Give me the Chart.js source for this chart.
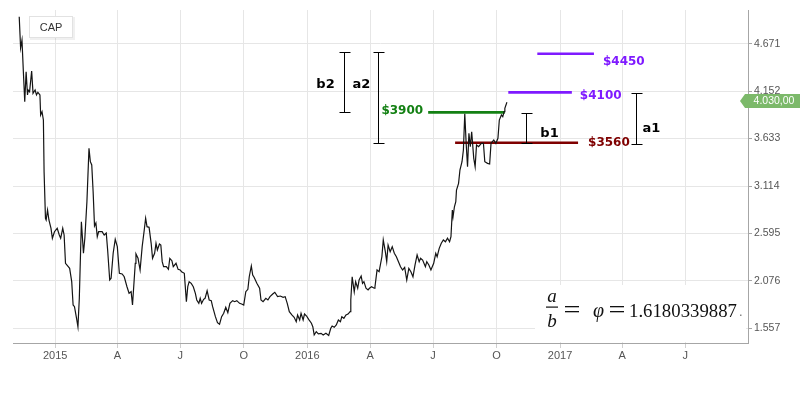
<!DOCTYPE html>
<html><head><meta charset="utf-8">
<script src="https://cdn.jsdelivr.net/npm/chart.js@4/dist/chart.umd.min.js"></script>
<style>html,body{margin:0;padding:0;background:#fff;overflow:hidden}canvas{display:block}</style>
</head><body>
<canvas id="c" width="806" height="393"></canvas>
<script>
const seriesName = 'CAP';
const priceDates = [
'2014-11-10','2014-11-12','2014-11-14','2014-11-16','2014-11-18','2014-11-20','2014-11-22','2014-11-23','2014-11-25','2014-11-28',
'2014-11-30','2014-12-03','2014-12-05','2014-12-07','2014-12-10','2014-12-11','2014-12-13','2014-12-15','2014-12-16','2014-12-18',
'2014-12-19','2014-12-21','2014-12-23','2014-12-26','2014-12-28','2014-12-31','2015-01-04','2015-01-07','2015-01-09','2015-01-12',
'2015-01-14','2015-01-16','2015-01-20','2015-01-22','2015-01-25','2015-01-27','2015-01-29','2015-02-01','2015-02-03','2015-02-05',
'2015-02-08','2015-02-11','2015-02-13','2015-02-16','2015-02-19','2015-02-21','2015-02-23','2015-02-25','2015-02-27','2015-03-01',
'2015-03-03','2015-03-05','2015-03-10','2015-03-13','2015-03-16','2015-03-18','2015-03-21','2015-03-23','2015-03-26','2015-03-29',
'2015-04-01','2015-04-04','2015-04-08','2015-04-11','2015-04-15','2015-04-18','2015-04-21','2015-04-23','2015-04-27','2015-04-28',
'2015-05-01','2015-05-04','2015-05-07','2015-05-10','2015-05-12','2015-05-14','2015-05-17','2015-05-20','2015-05-22','2015-05-25',
'2015-05-27','2015-05-29','2015-06-01','2015-06-03','2015-06-05','2015-06-07','2015-06-11','2015-06-14','2015-06-16','2015-06-19',
'2015-06-21','2015-06-25','2015-06-28','2015-07-01','2015-07-03','2015-07-07','2015-07-10','2015-07-12','2015-07-14','2015-07-17',
'2015-07-20','2015-07-23','2015-07-25','2015-07-28','2015-07-30','2015-08-01','2015-08-04','2015-08-06','2015-08-09','2015-08-12',
'2015-08-15','2015-08-17','2015-08-21','2015-08-24','2015-08-27','2015-08-30','2015-09-02','2015-09-05','2015-09-08','2015-09-11',
'2015-09-15','2015-09-18','2015-09-21','2015-09-25','2015-09-28','2015-10-01','2015-10-04','2015-10-07','2015-10-09','2015-10-12',
'2015-10-14','2015-10-16','2015-10-20','2015-10-24','2015-10-26','2015-10-29','2015-11-02','2015-11-05','2015-11-08','2015-11-12',
'2015-11-15','2015-11-19','2015-11-23','2015-11-27','2015-11-30','2015-12-03','2015-12-06','2015-12-10','2015-12-13','2015-12-16',
'2015-12-18','2015-12-21','2015-12-23','2015-12-26','2015-12-28','2015-12-31','2016-01-03','2016-01-07','2016-01-09','2016-01-11',
'2016-01-14','2016-01-17','2016-01-21','2016-01-24','2016-01-28','2016-02-01','2016-02-04','2016-02-06','2016-02-09','2016-02-12',
'2016-02-15','2016-02-18','2016-02-20','2016-02-23','2016-02-26','2016-02-29','2016-03-03','2016-03-04','2016-03-06','2016-03-09',
'2016-03-11','2016-03-14','2016-03-16','2016-03-19','2016-03-21','2016-03-23','2016-03-26','2016-03-29','2016-03-31','2016-04-03',
'2016-04-07','2016-04-08','2016-04-11','2016-04-14','2016-04-18','2016-04-20','2016-04-23','2016-04-25','2016-04-27','2016-04-30',
'2016-05-03','2016-05-06','2016-05-09','2016-05-12','2016-05-15','2016-05-18','2016-05-21','2016-05-24','2016-05-27','2016-05-30',
'2016-06-02','2016-06-05','2016-06-08','2016-06-11','2016-06-13','2016-06-16','2016-06-20','2016-06-22','2016-06-25','2016-06-28',
'2016-07-02','2016-07-05','2016-07-07','2016-07-10','2016-07-13','2016-07-16','2016-07-19','2016-07-22','2016-07-25','2016-07-27',
'2016-07-29','2016-07-30','2016-08-01','2016-08-03','2016-08-04','2016-08-07','2016-08-09','2016-08-12','2016-08-14','2016-08-16',
'2016-08-18','2016-08-20','2016-08-22','2016-08-24','2016-08-26','2016-08-29','2016-08-31','2016-09-02','2016-09-05','2016-09-09',
'2016-09-12','2016-09-14','2016-09-18','2016-09-21','2016-09-23','2016-09-25','2016-09-27','2016-09-30','2016-10-03','2016-10-05',
'2016-10-08','2016-10-10','2016-10-12','2016-10-13','2016-10-16'];
const priceValues = [
4966,4624,4711,4365,4036,4365,4110,4164,4146,4372,
4128,4164,4110,4139,4110,3891,3927,3836,3270,2761,
2742,2851,2742,2651,2542,2614,2651,2578,2542,2651,
2578,2268,2231,2213,2067,1812,1793,1666,1574,1885,
2723,2378,2542,2942,3526,3380,3344,3052,2676,2709,
2559,2614,2614,2578,2600,2414,2085,2104,2378,2531,
2450,2159,2151,2121,2012,1940,1957,1812,2268,2370,
2323,2195,2450,2632,2761,2669,2662,2487,2323,2378,
2487,2414,2479,2468,2286,2231,2231,2202,2323,2297,
2231,2268,2202,2195,2176,2159,1848,2012,2067,2049,
2012,1940,1867,1830,1885,1830,1874,1885,1968,1867,
1859,1793,1684,1618,1601,1684,1721,1787,1728,1830,
1859,1848,1859,1830,1823,1812,1957,1984,2121,2239,
2140,2115,2049,1995,1867,1848,1885,1867,1903,1932,
1951,1903,1910,1896,1903,1830,1739,1702,1677,1629,
1702,1648,1721,1648,1713,1691,1655,1612,1574,1484,
1520,1495,1502,1484,1502,1478,1557,1582,1568,1593,
1648,1629,1684,1666,1702,1713,1739,1867,2121,1957,
2067,1995,2085,2129,2049,2067,1995,1976,1995,2012,
1995,2012,2195,2176,2340,2523,2395,2286,2468,2395,
2450,2378,2340,2286,2231,2195,2224,2085,2213,2176,
2121,2250,2359,2286,2323,2304,2231,2286,2250,2195,
2268,2378,2340,2432,2487,2523,2504,2542,2504,2559,
2851,2778,2887,2942,3070,3143,3289,3380,3508,3905,
3581,3325,3691,3544,3708,3417,3325,3563,3544,3581,
3581,3380,3362,3355,3581,3599,3617,3581,3636,3836,
3891,3872,3927,3964,4030];

const yTickValues = [1557, 2076, 2595, 3114, 3633, 4152, 4671];
const yRange = [1396, 5040];
const xRange = ['2014-11-01', '2017-09-30'];
const xTickDates = ['2015-01-01','2015-04-01','2015-07-01','2015-10-01','2016-01-01','2016-04-01','2016-07-01','2016-10-01','2017-01-01','2017-04-01','2017-07-01'];
const xTickLabels = ['2015','A','J','O','2016','A','J','O','2017','A','J'];

const levelNames  = ['$3900', '$3560', '$4100', '$4450'];
const levelValues = [3920, 3588, 4139, 4562];
const levelStarts = ['2016-06-24', '2016-08-02', '2016-10-18', '2016-11-29'];
const levelEnds   = ['2016-10-13', '2017-01-27', '2017-01-18', '2017-02-19'];

const bracketNames = ['b2', 'a2', 'b1', 'a1'];
const bracketDates = ['2016-02-23', '2016-04-13', '2016-11-13', '2017-04-21'];
const bracketLows  = [3924, 3584, 3584, 3574];
const bracketHighs = [4583, 4583, 3913, 4132];

const formulaText = ['a', 'b', 'φ', '1.6180339887'];

// ---- styles (not data) ----
const levelColors = ['#138013', '#7f0000', '#7f1aff', '#7f1aff'];
const levelLabelStyle = [
  {side:'left', dx:-5, dy:-1}, {side:'right', dx:10, dy:0},
  {side:'right', dx:8, dy:4}, {side:'right', dx:9, dy:8}];
const bracketLabelOffsets = [[-19, 2], [-17, -13], [23, 5], [15, 9.5]];

const T = s => Date.parse(s + 'T00:00:00Z');

const datasets = [{
  label: seriesName,
  data: priceDates.map((d, i) => ({x: T(d), y: priceValues[i]})),
  borderColor: '#141414', borderWidth: 1.2, pointRadius: 0, tension: 0, fill: false, order: 0
}];
levelNames.forEach((n, i) => {
  datasets.push({
    label: n,
    data: [{x: T(levelStarts[i]), y: levelValues[i]}, {x: T(levelEnds[i]), y: levelValues[i]}],
    borderColor: levelColors[i], borderWidth: 2.6, pointRadius: 0, fill: false, order: 1
  });
});

const fmtDE = (v, dec) => {
  const s = v.toFixed(dec);
  const [ip, fp] = s.split('.');
  const g = ip.replace(/\B(?=(\d{3})+(?!\d))/g, '.');
  return fp ? g + ',' + fp : g;
};

const fitText = (ctx, text, x, y, w) => {
  const m = ctx.measureText(text).width;
  ctx.save();
  ctx.translate(x, y);
  ctx.scale(w / m, 1);
  ctx.fillText(text, 0, 0);
  ctx.restore();
};

const decor = {
  id: 'decor',
  afterDatasetsDraw(chart) {
    const ctx = chart.ctx, xs = chart.scales.x, ys = chart.scales.y, ca = chart.chartArea;
    ctx.save();
    // brackets
    ctx.strokeStyle = '#000'; ctx.lineWidth = 1;
    bracketNames.forEach((n, i) => {
      const x = Math.round(xs.getPixelForValue(T(bracketDates[i]))) + 0.5;
      const y1 = Math.round(ys.getPixelForValue(bracketHighs[i])) + 0.5;
      const y2 = Math.round(ys.getPixelForValue(bracketLows[i])) + 0.5;
      ctx.beginPath();
      ctx.moveTo(x, y1); ctx.lineTo(x, y2);
      ctx.moveTo(x - 5, y1); ctx.lineTo(x + 6, y1);
      ctx.moveTo(x - 5, y2); ctx.lineTo(x + 6, y2);
      ctx.stroke();
      ctx.font = 'bold 13px "DejaVu Sans", Verdana, sans-serif';
      ctx.fillStyle = '#000'; ctx.textAlign = 'center'; ctx.textBaseline = 'middle';
      const [dx, dy] = bracketLabelOffsets[i];
      ctx.fillText(n, x + dx, (y1 + y2) / 2 + dy);
    });
    // level labels
    ctx.font = 'bold 12px "DejaVu Sans", Verdana, sans-serif';
    ctx.textBaseline = 'middle';
    levelNames.forEach((n, i) => {
      const st = levelLabelStyle[i];
      const y = ys.getPixelForValue(levelValues[i]) + st.dy;
      ctx.fillStyle = levelColors[i];
      if (st.side === 'left') {
        ctx.textAlign = 'right';
        ctx.fillText(n, xs.getPixelForValue(T(levelStarts[i])) + st.dx, y);
      } else {
        ctx.textAlign = 'left';
        ctx.fillText(n, xs.getPixelForValue(T(levelEnds[i])) + st.dx, y);
      }
    });
    // formula box
    const bx = ca.right - 213, by = ca.bottom - 58;
    ctx.fillStyle = '#fff';
    ctx.fillRect(bx, by, 211, 57);
    ctx.fillStyle = '#111';
    ctx.textBaseline = 'alphabetic';
    ctx.textAlign = 'center';
    ctx.font = 'italic 19px "Liberation Serif", "Times New Roman", serif';
    const fx = bx + 17;
    ctx.fillText(formulaText[0], fx, by + 17);
    ctx.fillText(formulaText[1], fx, by + 42);
    ctx.fillRect(fx - 6, by + 21.5, 12, 1.2);
    ctx.textAlign = 'left';
    const base = by + 31.5;
    const eq = (x0, w) => { ctx.fillRect(x0, by + 21, w, 1.3); ctx.fillRect(x0, by + 26, w, 1.3); };
    eq(bx + 30, 14);
    ctx.font = 'italic 20px "Liberation Serif", "Times New Roman", serif';
    ctx.fillText(formulaText[2], bx + 58, base);
    eq(bx + 75, 14);
    ctx.font = '19.5px "Liberation Serif", "Times New Roman", serif';
    fitText(ctx, formulaText[3], bx + 94, base, 108);
    ctx.fillStyle = '#888';
    ctx.fillRect(bx + 205, base - 2, 1.5, 1.5);
    // legend box
    ctx.fillStyle = 'rgba(0,0,0,0.06)';
    ctx.fillRect(30, 17, 45, 23);
    ctx.fillStyle = '#fff';
    ctx.fillRect(29, 16, 44, 22);
    ctx.strokeStyle = '#e2e2e2'; ctx.lineWidth = 1;
    ctx.strokeRect(29.5, 16.5, 43, 21);
    ctx.fillStyle = '#333';
    ctx.font = '11px "Liberation Sans", Arial, sans-serif';
    ctx.textAlign = 'center'; ctx.textBaseline = 'middle';
    ctx.fillText(seriesName, 51, 27.5);
    ctx.restore();
  },
  afterDraw(chart) {
    const ctx = chart.ctx, ys = chart.scales.y, ca = chart.chartArea;
    const last = priceValues[priceValues.length - 1];
    const y = Math.round(ys.getPixelForValue(last)) - 1;
    ctx.save();
    ctx.fillStyle = '#7cb96a';
    ctx.beginPath();
    ctx.moveTo(ca.right - 8, y);
    ctx.lineTo(ca.right - 3, y - 7);
    ctx.lineTo(ca.right + 52, y - 7);
    ctx.lineTo(ca.right + 52, y + 7);
    ctx.lineTo(ca.right - 3, y + 7);
    ctx.closePath();
    ctx.fill();
    ctx.fillStyle = '#fff';
    ctx.font = '10.5px "Liberation Sans", Arial, sans-serif';
    ctx.textAlign = 'center'; ctx.textBaseline = 'middle';
    ctx.fillText(fmtDE(last, 2), ca.right + 26, y + 0.5);
    ctx.restore();
  }
};

new Chart(document.getElementById('c'), {
  type: 'line',
  data: { datasets },
  plugins: [decor],
  options: {
    responsive: false, animation: false, devicePixelRatio: 1,
    layout: { padding: { left: 13, top: 10, right: 0, bottom: 0 } },
    plugins: { legend: { display: false }, tooltip: { enabled: false } },
    scales: {
      x: {
        type: 'linear', min: T(xRange[0]), max: T(xRange[1]),
        afterBuildTicks: s => { s.ticks = xTickDates.map(d => ({ value: T(d) })); },
        afterFit: s => { s.height = 50; },
        grid: { color: '#e6e6e6', tickColor: '#cfcfcf', tickLength: 5, drawOnChartArea: true },
        border: { color: '#a6a6a6', width: 1 },
        ticks: { autoSkip: false, maxRotation: 0, padding: 1, color: '#555',
          font: { family: '"Liberation Sans", Arial, sans-serif', size: 11 },
          callback: (v, i) => xTickLabels[i] }
      },
      y: {
        type: 'linear', position: 'right', min: yRange[0], max: yRange[1],
        afterBuildTicks: s => { s.ticks = yTickValues.map(v => ({ value: v })); },
        afterFit: s => { s.width = 58; },
        grid: { color: '#e6e6e6', tickColor: '#a6a6a6', tickLength: 4 },
        border: { color: '#a6a6a6', width: 1 },
        ticks: { padding: 2, color: '#555',
          font: { family: '"Liberation Sans", Arial, sans-serif', size: 10.5 },
          callback: v => fmtDE(v / 1000, 3).replace(',', '.') }
      }
    }
  }
});
</script>
</body></html>
